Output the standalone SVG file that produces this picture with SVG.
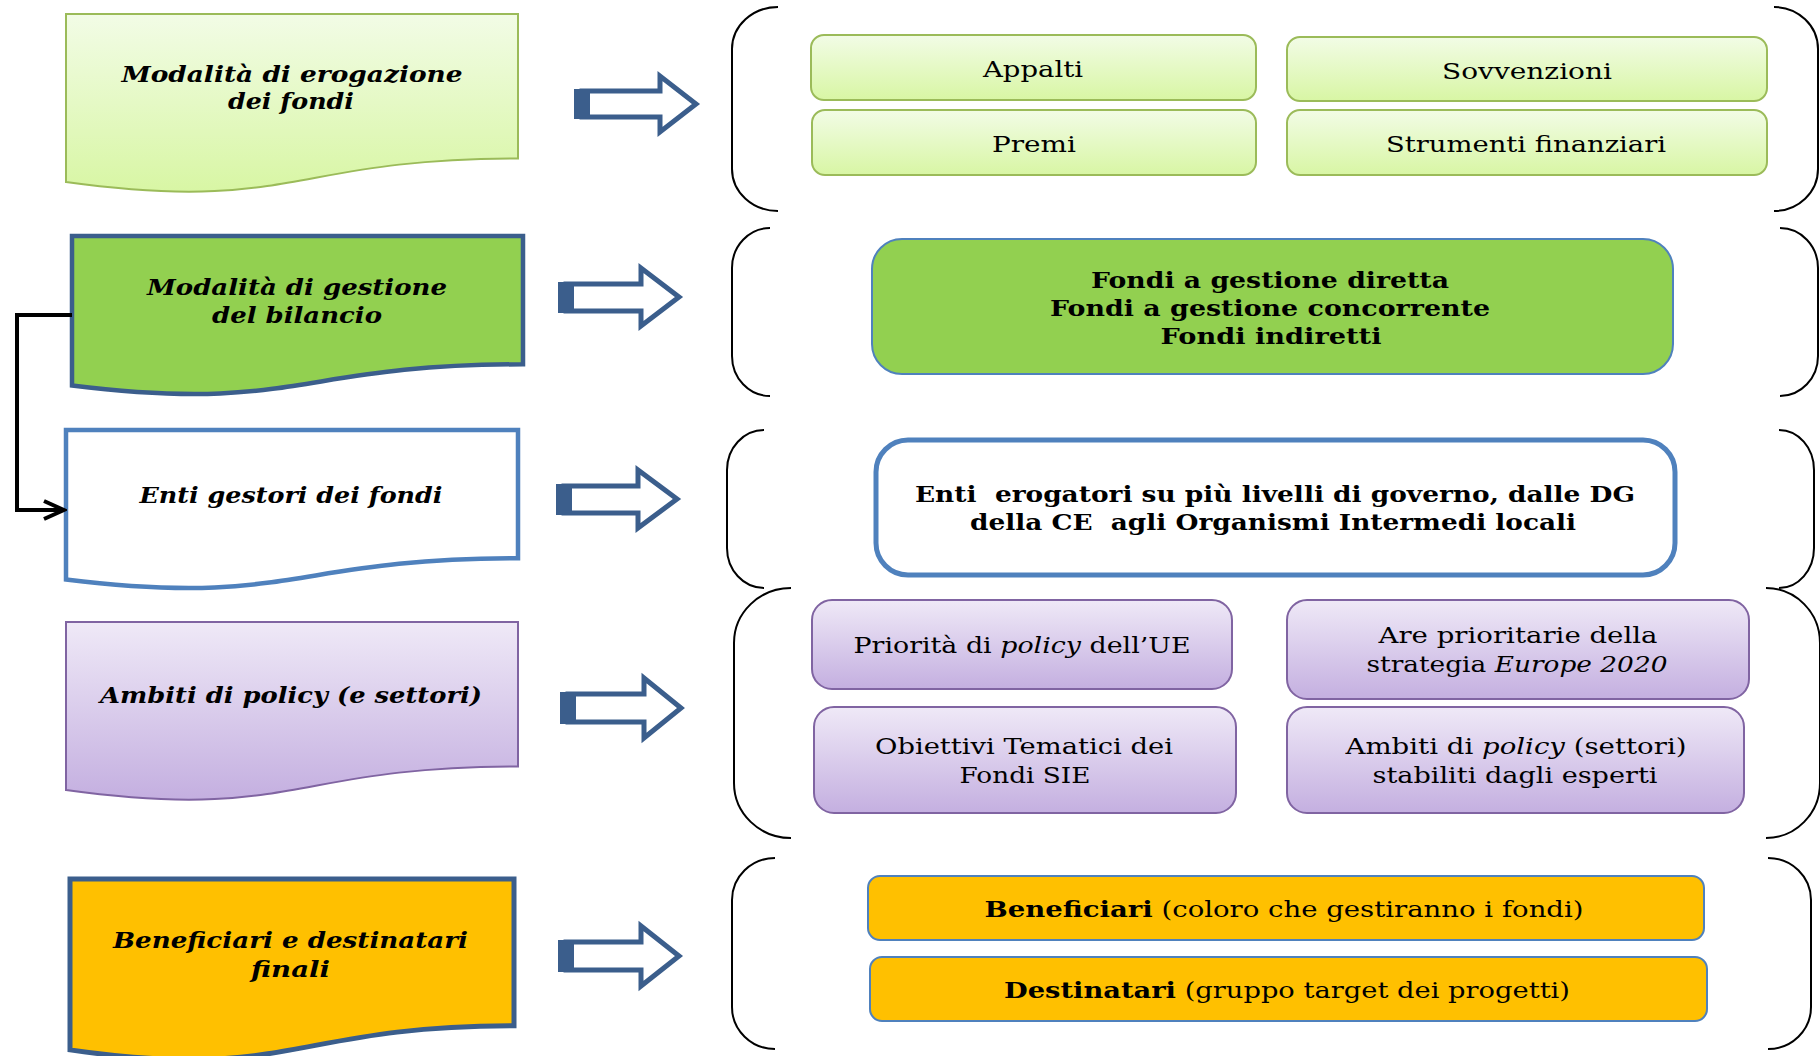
<svg xmlns="http://www.w3.org/2000/svg" width="1820" height="1056" viewBox="0 0 1820 1056">
<defs>
<linearGradient id="gGreen" x1="0" y1="0" x2="0" y2="1">
<stop offset="0" stop-color="#f2fce6"/><stop offset="1" stop-color="#d8f6a4"/>
</linearGradient>
<linearGradient id="gPurple" x1="0" y1="0" x2="0" y2="1">
<stop offset="0" stop-color="#efe9f7"/><stop offset="1" stop-color="#c4afe0"/>
</linearGradient>
<marker id="openArrow" viewBox="0 0 12 12" refX="10.5" refY="6" markerWidth="24" markerHeight="24" markerUnits="userSpaceOnUse" orient="auto">
<path d="M0.5,1.5 L10.5,6 L0.5,10.5" fill="none" stroke="#000" stroke-width="2"/>
</marker>
</defs>
<style>
text{font-family:"DejaVu Serif","Liberation Serif",serif;fill:#000;text-anchor:middle}
.lt{font-size:23px;font-weight:bold;font-style:italic}
.rt{font-size:22px}
.bt{font-size:22px;font-weight:bold}
.br{fill:none;stroke:#000;stroke-width:2}
.arr{fill:#fff;stroke:#3b5e8c;stroke-width:5;stroke-linejoin:miter}
.arrb{fill:#3b5e8c}
.bxg{fill:url(#gGreen);stroke:#9bbb59;stroke-width:2}
.bxp{fill:url(#gPurple);stroke:#8064a2;stroke-width:2}
.bxo{fill:#ffc000;stroke:#4f81bd;stroke-width:2}
</style>
<rect width="1820" height="1056" fill="#fff"/>

<!-- Left nodes -->
<g id="node-erogazione">
<path d="M66,14 H518 V158.4 C292,158.4 292,213.4 66,182.1 Z" fill="url(#gGreen)" stroke="#9bbb59" stroke-width="2"/>
<text class="lt" x="292" y="82" textLength="341" lengthAdjust="spacingAndGlyphs">Modalità di erogazione</text>
<text class="lt" x="291" y="109" textLength="126" lengthAdjust="spacingAndGlyphs">dei fondi</text>
</g>
<g id="node-gestione">
<path d="M72,236 H523 V364.3 C297.5,364.3 297.5,413.2 72,385.4 Z" fill="#92d050" stroke="#3b5e8c" stroke-width="4.5"/>
<text class="lt" x="297" y="295" textLength="300" lengthAdjust="spacingAndGlyphs">Modalità di gestione</text>
<text class="lt" x="297" y="323" textLength="170" lengthAdjust="spacingAndGlyphs">del bilancio</text>
</g>
<g id="node-enti">
<path d="M66,430 H518 V558.3 C292,558.3 292,607.2 66,579.4 Z" fill="#fff" stroke="#4f81bd" stroke-width="4.5"/>
<text class="lt" x="291" y="503" textLength="303" lengthAdjust="spacingAndGlyphs">Enti gestori dei fondi</text>
</g>
<g id="node-ambiti">
<path d="M66,622 H518 V766.4 C292,766.4 292,821.4 66,790.1 Z" fill="url(#gPurple)" stroke="#8064a2" stroke-width="2"/>
<text class="lt" x="291" y="703" textLength="382" lengthAdjust="spacingAndGlyphs">Ambiti di policy (e settori)</text>
</g>
<g id="node-beneficiari">
<path d="M70,879 H514 V1025.8 C292,1025.8 292,1081.7 70,1049.9 Z" fill="#ffc000" stroke="#3b5e8c" stroke-width="5"/>
<text class="lt" x="290.5" y="948" textLength="355" lengthAdjust="spacingAndGlyphs">Beneficiari e destinatari</text>
<text class="lt" x="290.5" y="977" textLength="79" lengthAdjust="spacingAndGlyphs">finali</text>
</g>

<!-- Connectors -->
<g id="connectors">
<path d="M72,315 H17 V510 H64" fill="none" stroke="#000" stroke-width="4" marker-end="url(#openArrow)"/>
<g id="arrow1"><path class="arr" d="M582,91 H660 V76 L696,104 L660,132 V117 H582 Z"/><rect class="arrb" x="574" y="89" width="16" height="30"/></g>
<g id="arrow2"><path class="arr" d="M566,284 H641 V268 L679,297 L641,326 V311 H566 Z"/><rect class="arrb" x="558" y="282" width="16" height="31"/></g>
<g id="arrow3"><path class="arr" d="M564,486 H638 V470 L677,499 L638,528 V513 H564 Z"/><rect class="arrb" x="556" y="484" width="16" height="31"/></g>
<g id="arrow4"><path class="arr" d="M568,694 H644 V678 L681,708 L644,738 V722 H568 Z"/><rect class="arrb" x="560" y="692" width="16" height="32"/></g>
<g id="arrow5"><path class="arr" d="M566,942 H641 V926 L679,956 L641,986 V970 H566 Z"/><rect class="arrb" x="558" y="940" width="16" height="32"/></g>
</g>

<!-- Brackets -->
<g id="brackets">
<path class="br" d="M778,7 A46,42 0 0 0 732,49 V169 A46,42 0 0 0 778,211"/>
<path class="br" d="M1774,7 A44,42 0 0 1 1818,49 V169 A44,42 0 0 1 1774,211"/>
<path class="br" d="M770,228 A38,40 0 0 0 732,268 V356 A38,40 0 0 0 770,396"/>
<path class="br" d="M1780,228 A38,40 0 0 1 1818,268 V356 A38,40 0 0 1 1780,396"/>
<path class="br" d="M764,430 A37,40 0 0 0 727,470 V548 A37,40 0 0 0 764,588"/>
<path class="br" d="M1779,430 A35,40 0 0 1 1814,470 V548 A35,40 0 0 1 1779,588"/>
<path class="br" d="M791,588 A57,55 0 0 0 734,643 V783 A57,55 0 0 0 791,838"/>
<path class="br" d="M1766,588 A54,55 0 0 1 1820,643 V783 A54,55 0 0 1 1766,838"/>
<path class="br" d="M775,858 A43,42 0 0 0 732,900 V1007 A43,42 0 0 0 775,1049"/>
<path class="br" d="M1768,858 A43,42 0 0 1 1811,900 V1007 A43,42 0 0 1 1768,1049"/>
</g>

<!-- Group 1 boxes -->
<g id="box-appalti">
<rect class="bxg" x="811" y="35" width="445" height="65" rx="13"/>
<text class="rt" x="1033" y="77" textLength="100" lengthAdjust="spacingAndGlyphs">Appalti</text>
</g>
<g id="box-sovvenzioni">
<rect class="bxg" x="1287" y="37" width="480" height="64" rx="13"/>
<text class="rt" x="1527" y="79" textLength="170" lengthAdjust="spacingAndGlyphs">Sovvenzioni</text>
</g>
<g id="box-premi">
<rect class="bxg" x="812" y="110" width="444" height="65" rx="13"/>
<text class="rt" x="1034" y="152" textLength="84" lengthAdjust="spacingAndGlyphs">Premi</text>
</g>
<g id="box-strumenti">
<rect class="bxg" x="1287" y="110" width="480" height="65" rx="13"/>
<text class="rt" x="1526" y="152" textLength="280" lengthAdjust="spacingAndGlyphs">Strumenti finanziari</text>
</g>

<!-- Group 2 -->
<g id="box-fondi">
<rect x="872" y="239" width="801" height="135" rx="30" fill="#92d050" stroke="#4f81bd" stroke-width="2"/>
<text class="bt" x="1270" y="288" textLength="358" lengthAdjust="spacingAndGlyphs">Fondi a gestione diretta</text>
<text class="bt" x="1270" y="316" textLength="440" lengthAdjust="spacingAndGlyphs">Fondi a gestione concorrente</text>
<text class="bt" x="1271" y="344" textLength="221" lengthAdjust="spacingAndGlyphs">Fondi indiretti</text>
</g>

<!-- Group 3 -->
<g id="box-enti-erogatori">
<rect x="876" y="440" width="799" height="135" rx="32" fill="#fff" stroke="#4f81bd" stroke-width="5"/>
<text class="bt" x="1275" y="502" textLength="720" lengthAdjust="spacingAndGlyphs" xml:space="preserve">Enti  erogatori su più livelli di governo, dalle DG</text>
<text class="bt" x="1273" y="530" textLength="606" lengthAdjust="spacingAndGlyphs" xml:space="preserve">della CE  agli Organismi Intermedi locali</text>
</g>

<!-- Group 4 -->
<g id="box-priorita">
<rect class="bxp" x="812" y="600" width="420" height="89" rx="20"/>
<text class="rt" x="1022" y="653" textLength="337" lengthAdjust="spacingAndGlyphs">Priorità di <tspan font-style="italic">policy</tspan> dell’UE</text>
</g>
<g id="box-aree">
<rect class="bxp" x="1287" y="600" width="462" height="99" rx="20"/>
<text class="rt" x="1518" y="643" textLength="279" lengthAdjust="spacingAndGlyphs">Are prioritarie della</text>
<text class="rt" x="1517" y="672" textLength="301" lengthAdjust="spacingAndGlyphs">strategia <tspan font-style="italic">Europe 2020</tspan></text>
</g>
<g id="box-obiettivi">
<rect class="bxp" x="814" y="707" width="422" height="106" rx="20"/>
<text class="rt" x="1024" y="754" textLength="298" lengthAdjust="spacingAndGlyphs">Obiettivi Tematici dei</text>
<text class="rt" x="1025" y="783" textLength="131" lengthAdjust="spacingAndGlyphs">Fondi SIE</text>
</g>
<g id="box-ambiti-esperti">
<rect class="bxp" x="1287" y="707" width="457" height="106" rx="20"/>
<text class="rt" x="1516" y="754" textLength="341" lengthAdjust="spacingAndGlyphs">Ambiti di <tspan font-style="italic">policy</tspan> (settori)</text>
<text class="rt" x="1515" y="783" textLength="285" lengthAdjust="spacingAndGlyphs">stabiliti dagli esperti</text>
</g>

<!-- Group 5 -->
<g id="box-beneficiari">
<rect class="bxo" x="868" y="876" width="836" height="64" rx="12"/>
<text class="rt" x="1284" y="917" textLength="599" lengthAdjust="spacingAndGlyphs"><tspan font-weight="bold">Beneficiari</tspan> (coloro che gestiranno i fondi)</text>
</g>
<g id="box-destinatari">
<rect class="bxo" x="870" y="957" width="837" height="64" rx="12"/>
<text class="rt" x="1287" y="998" textLength="566" lengthAdjust="spacingAndGlyphs"><tspan font-weight="bold">Destinatari</tspan> (gruppo target dei progetti)</text>
</g>
</svg>
